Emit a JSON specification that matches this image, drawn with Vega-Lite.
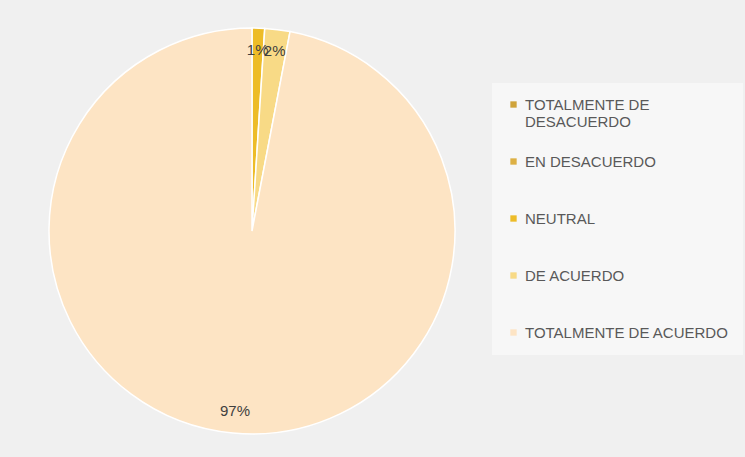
{
  "$schema": "https://vega.github.io/schema/vega-lite/v6.json",
  "width": 504,
  "height": 452,
  "autosize": "none",
  "padding": {"left": 0, "top": 5, "right": 241, "bottom": 0},
  "background": "#F0F0F0",
  "config": {"view": {"stroke": null}},
  "data": {
    "values": [
      {"categoria": "TOTALMENTE DE DESACUERDO", "valor": 0, "idx": 1},
      {"categoria": "EN DESACUERDO", "valor": 0, "idx": 2},
      {"categoria": "NEUTRAL", "valor": 1, "idx": 3},
      {"categoria": "DE ACUERDO", "valor": 2, "idx": 4},
      {"categoria": "TOTALMENTE DE ACUERDO", "valor": 97, "idx": 5}
    ]
  },
  "encoding": {
    "theta": {"field": "valor", "type": "quantitative", "stack": true},
    "order": {"field": "idx", "type": "quantitative"},
    "color": {
      "field": "categoria",
      "type": "nominal",
      "sort": ["TOTALMENTE DE DESACUERDO", "EN DESACUERDO", "NEUTRAL", "DE ACUERDO", "TOTALMENTE DE ACUERDO"],
      "scale": {
        "domain": ["TOTALMENTE DE DESACUERDO", "EN DESACUERDO", "NEUTRAL", "DE ACUERDO", "TOTALMENTE DE ACUERDO"],
        "range": ["#CFA33A", "#DDB044", "#EDBC28", "#F8DA86", "#FDE4C4"]
      },
      "legend": {
        "title": null,
        "orient": "none",
        "legendX": 492,
        "legendY": 78,
        "padding": 14,
        "fillColor": "#F7F7F7",
        "columns": 1,
        "gridAlign": "all",
        "symbolType": "square",
        "symbolSize": 40,
        "symbolStrokeWidth": 0,
        "rowPadding": 24,
        "labelFont": "Liberation Sans",
        "labelFontSize": 15,
        "labelColor": "#595959",
        "labelLimit": 300,
        "labelOffset": 4,
        "labelExpr": "datum.label == 'TOTALMENTE DE DESACUERDO' ? ['TOTALMENTE DE', 'DESACUERDO'] : datum.label"
      }
    }
  },
  "layer": [
    {
      "mark": {"type": "arc", "outerRadius": 203, "stroke": "#FFFFFF", "strokeWidth": 1.5}
    },
    {
      "transform": [{"filter": "datum.valor > 0"}],
      "mark": {"type": "text", "radius": 181, "font": "Liberation Sans", "fontSize": 15},
      "encoding": {
        "text": {"field": "label", "type": "nominal"},
        "color": {"value": "#404040"}
      }
    }
  ],
  "transform": [{"calculate": "datum.valor + '%'", "as": "label"}]
}
